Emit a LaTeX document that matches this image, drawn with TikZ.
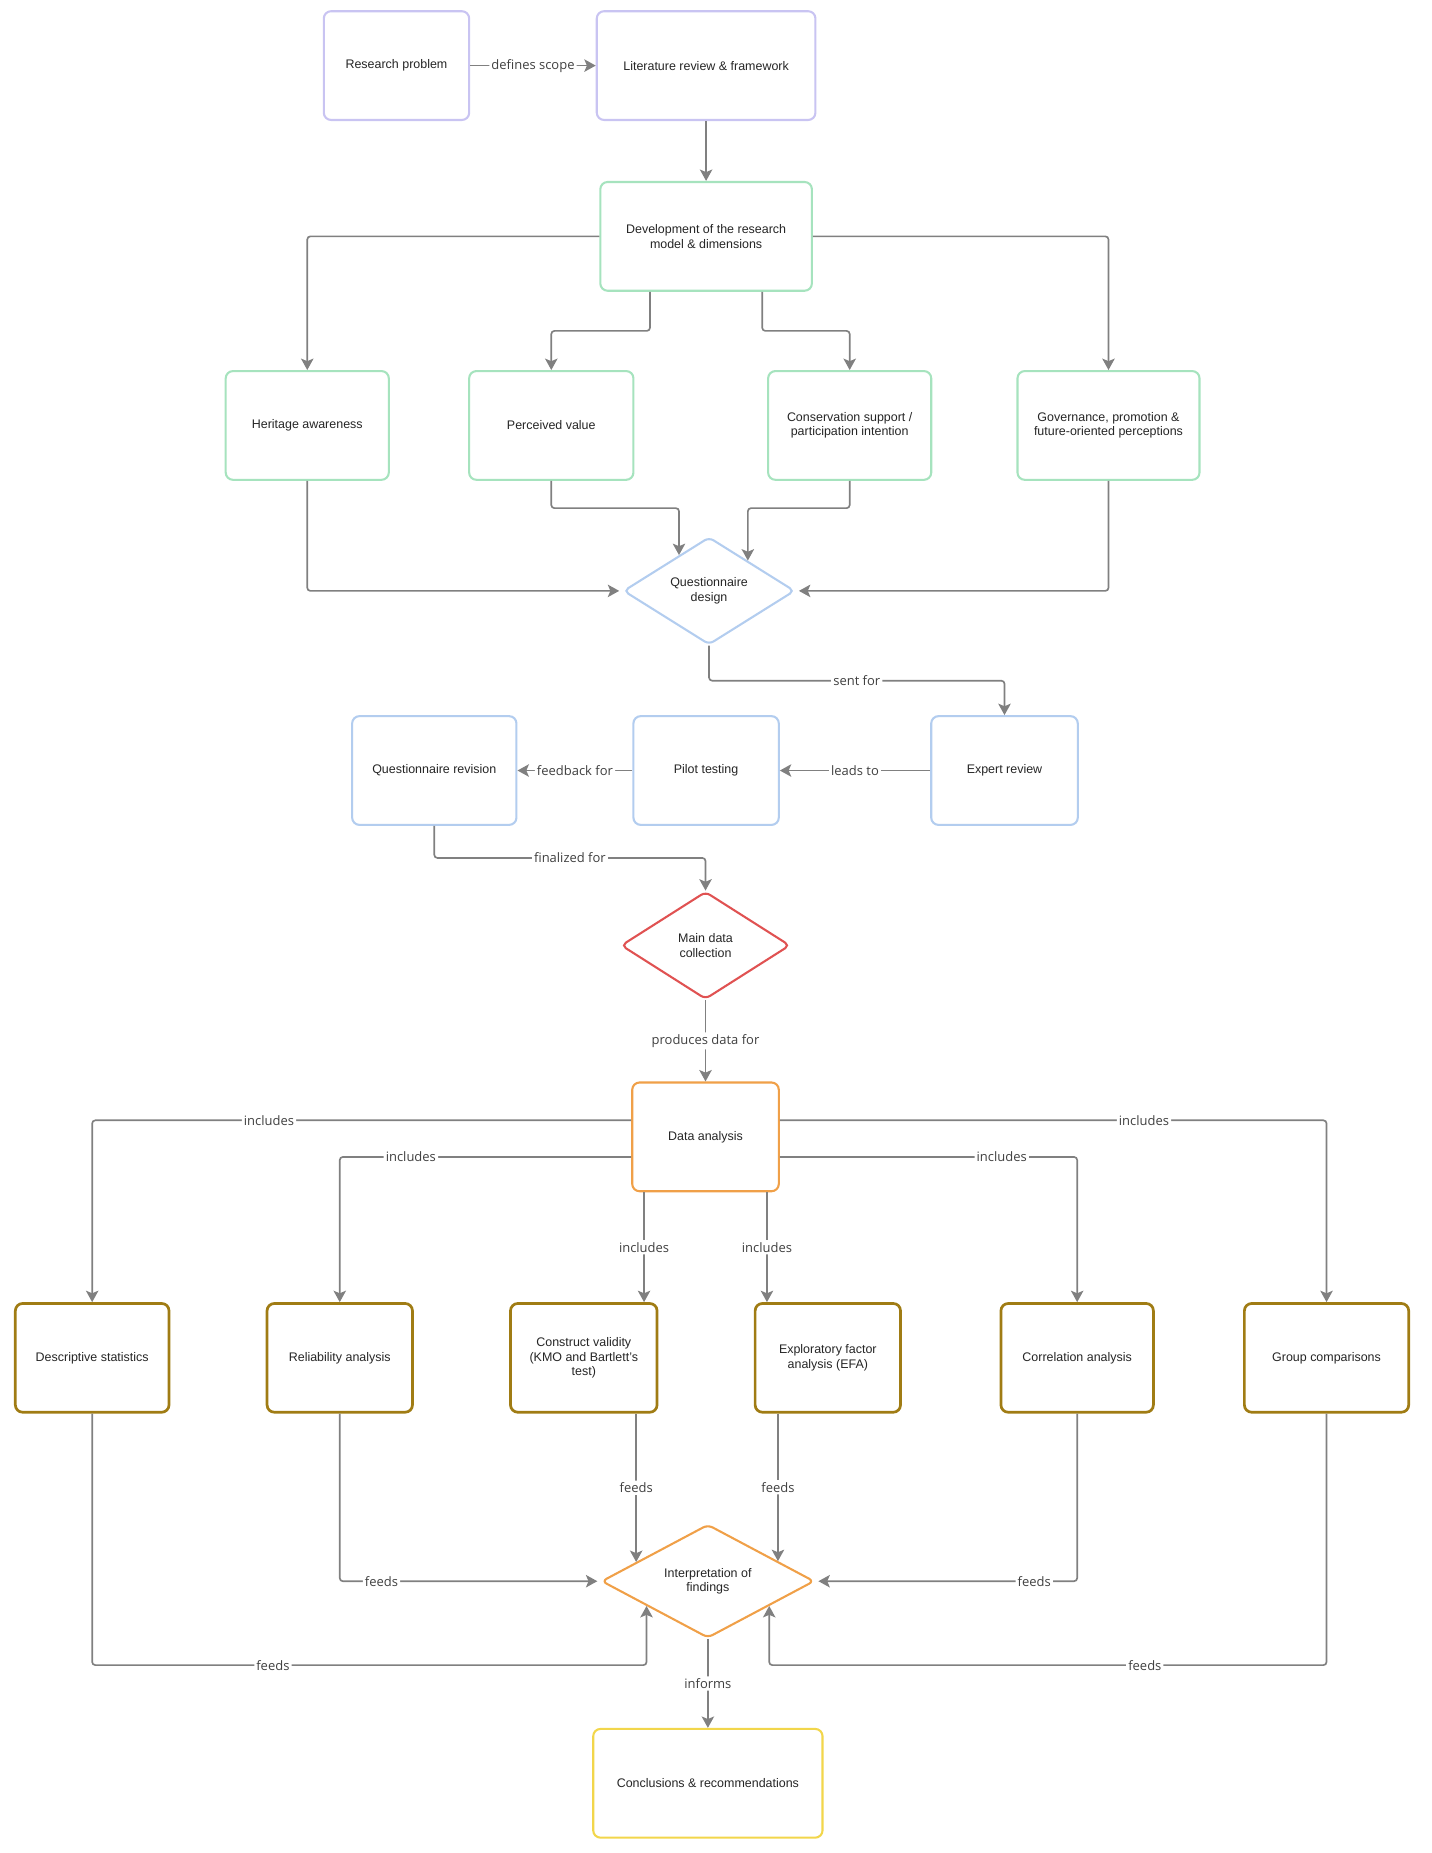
\documentclass[tikz,border=0pt]{standalone}
\usepackage{fontspec}
\setmainfont{Liberation Sans}
\newfontfamily\lblfont{Open Sans}
\usetikzlibrary{arrows.meta,shapes.geometric}
\definecolor{lavender}{HTML}{C9C4F2}
\definecolor{mint}{HTML}{A6E3BE}
\definecolor{skyblue}{HTML}{B3CDEF}
\definecolor{alert}{HTML}{E05252}
\definecolor{amber}{HTML}{F0A048}
\definecolor{gold}{HTML}{A07C14}
\definecolor{sun}{HTML}{F2D64B}
\definecolor{wire}{HTML}{808080}
\tikzset{
  box/.style={draw, rounded corners=7pt, line width=2pt, fill=white, minimum height=3.68cm,
    align=center, font=\fontsize{12}{14}\selectfont, text=black!85},
  abox/.style={box, draw=gold, line width=2.6pt},
  dia/.style={diamond, draw, rounded corners=5pt, line width=2pt, fill=white, inner sep=0pt,
    align=center, font=\fontsize{12}{14}\selectfont, text=black!85},
  arr/.style={draw=wire, line width=1.6pt, rounded corners=3pt,
    -{Stealth[length=11pt,width=12pt,inset=2.5pt]}, fill=none},
  lbl/.style={fill=white, inner sep=2pt, text=black!75, font=\lblfont\fontsize{12.5}{14}\selectfont}
}
\begin{document}
\begin{tikzpicture}[x=0.04cm, y=-0.04cm]
\useasboundingbox (0,0) rectangle (1211,1568);
% Framing
\node[box, draw=lavender, minimum width=4.92cm] (rp) at (335.5,55.5) {Research problem};
\node[box, draw=lavender, minimum width=7.4cm] (lit) at (597.5,55.5) {Literature review \& framework};
\node[box, draw=mint, minimum width=7.16cm] (dev) at (597.5,200) {Development of the research\\model \& dimensions};
% Dimensions
\node[box, draw=mint, minimum width=5.52cm] (ha) at (260,360) {Heritage awareness};
\node[box, draw=mint, minimum width=5.56cm] (pv) at (466.5,360) {Perceived value};
\node[box, draw=mint, minimum width=5.52cm] (cs) at (719,360) {Conservation support /\\participation intention};
\node[box, draw=mint, minimum width=6.16cm] (gv) at (938,360) {Governance, promotion \&\\future-oriented perceptions};
% Questionnaire
\node[dia, draw=skyblue, minimum width=5.8cm, minimum height=3.64cm] (qd) at (600,500) {Questionnaire\\design};
\node[box, draw=skyblue, minimum width=4.96cm] (er) at (850,652) {Expert review};
\node[box, draw=skyblue, minimum width=4.92cm] (pt) at (597.5,652) {Pilot testing};
\node[box, draw=skyblue, minimum width=5.56cm] (qr) at (367.5,652) {Questionnaire revision};
\node[dia, draw=alert, minimum width=5.72cm, minimum height=3.64cm] (mdc) at (597,800) {Main data\\collection};
% Analysis
\node[box, draw=amber, minimum width=4.96cm] (da) at (597,962) {Data analysis};
\node[abox, minimum width=5.2cm] (ds) at (78,1149) {Descriptive statistics};
\node[abox, minimum width=4.92cm] (ra) at (287.5,1149) {Reliability analysis};
\node[abox, minimum width=4.96cm] (cv) at (494,1149) {Construct validity\\(KMO and Bartlett's\\test)};
\node[abox, minimum width=4.92cm] (efa) at (700.5,1149) {Exploratory factor\\analysis (EFA)};
\node[abox, minimum width=5.16cm] (ca) at (911.5,1149) {Correlation analysis};
\node[abox, minimum width=5.56cm] (gc) at (1122.5,1149) {Group comparisons};
\node[dia, draw=amber, minimum width=7.2cm, minimum height=3.72cm] (id) at (599,1338) {Interpretation of\\findings};
\node[box, draw=sun, minimum width=7.76cm] (cr) at (599,1509) {Conclusions \& recommendations};
% Connectors
\draw[arr] (rp) -- node[lbl] {defines scope} (lit);
\draw[arr] (lit) -- (dev);
\draw[arr] (dev.west) -| (ha.north);
\draw[arr] (dev.south -| 550,0) -- (550,280) -| (pv.north);
\draw[arr] (dev.south -| 645,0) -- (645,280) -| (cs.north);
\draw[arr] (dev.east) -| (gv.north);
\draw[arr, shorten >=3pt] (ha.south) |- (qd.west);
\draw[arr] (pv.south) -- (pv.south |- 0,430) -| (qd.130);
\draw[arr] (cs.south) -- (cs.south |- 0,430) -| (qd.38);
\draw[arr, shorten >=3pt] (gv.south) |- (qd.east);
\draw[arr] (qd.south) -- (qd.south |- 0,576) -| node[lbl, pos=0.25] {sent for} (er.north);
\draw[arr] (er) -- node[lbl] {leads to} (pt);
\draw[arr] (pt) -- node[lbl] {feedback for} (qr);
\draw[arr] (qr.south) -- (qr.south |- 0,726) -| node[lbl, pos=0.25] {finalized for} (mdc.north);
\draw[arr] (mdc) -- node[lbl] {produces data for} (da);
\draw[arr] (da.west |- 0,948) -| node[lbl, pos=0.336] {includes} (ds.north);
\draw[arr] (da.west |- 0,979) -| node[lbl, pos=0.378] {includes} (ra.north);
\draw[arr] (da.south -| 545,0) -- node[lbl] {includes} (cv.north -| 545,0);
\draw[arr] (da.south -| 649,0) -- node[lbl] {includes} (efa.north -| 649,0);
\draw[arr] (da.east |- 0,979) -| node[lbl, pos=0.373] {includes} (ca.north);
\draw[arr] (da.east |- 0,948) -| node[lbl, pos=0.333] {includes} (gc.north);
\draw[arr] (cv.south -| id.165) -- node[lbl] {feeds} (id.165);
\draw[arr] (efa.south -| id.16) -- node[lbl] {feeds} (id.16);
\draw[arr, shorten >=3pt] (ra.south) |- node[lbl, pos=0.58] {feeds} (id.west);
\draw[arr, shorten >=3pt] (ca.south) |- node[lbl, pos=0.582] {feeds} (id.east);
\draw[arr] (ds.south) -- (ds.south |- 0,1409) -| node[lbl, pos=0.163] {feeds} (id.202);
\draw[arr] (gc.south) -- (gc.south |- 0,1409) -| node[lbl, pos=0.163] {feeds} (id.338);
\draw[arr] (id) -- node[lbl] {informs} (cr);
\end{tikzpicture}
\end{document}
